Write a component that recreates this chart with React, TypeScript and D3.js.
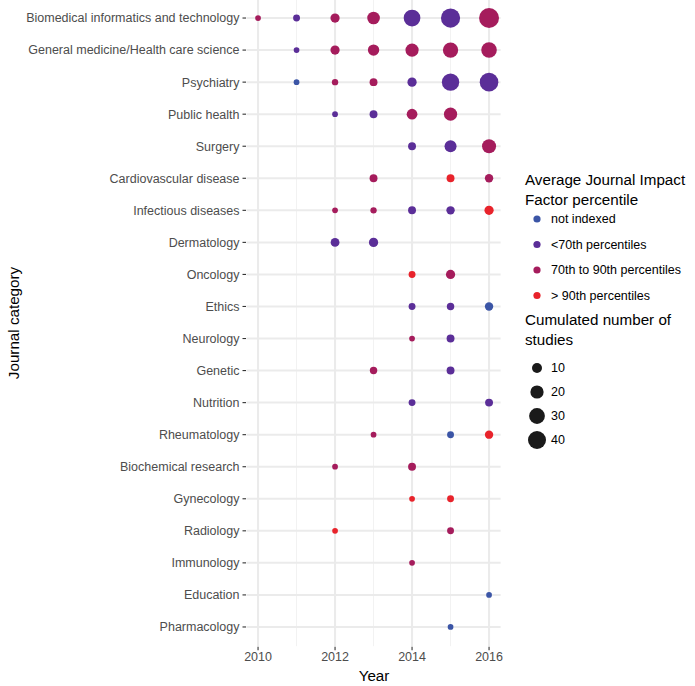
import React from "react";
import * as d3 from "d3";

const categories = [
  "Biomedical informatics and technology",
  "General medicine/Health care science",
  "Psychiatry",
  "Public health",
  "Surgery",
  "Cardiovascular disease",
  "Infectious diseases",
  "Dermatology",
  "Oncology",
  "Ethics",
  "Neurology",
  "Genetic",
  "Nutrition",
  "Rheumatology",
  "Biochemical research",
  "Gynecology",
  "Radiology",
  "Immunology",
  "Education",
  "Pharmacology",
];

const yearTicks = [2010, 2012, 2014, 2016];
const minorYears = [2011, 2013, 2015];

const classLabels = ["not indexed", "<70th percentiles", "70th to 90th percentiles", "> 90th percentiles"];
const classColors = ["#3B55A6", "#5B2E98", "#A51C5C", "#E8232B"];

const sizeBreaks = [10, 20, 30, 40];

// [category, year, cumulated studies, impact class index]
const observations: [string, number, number, number][] = [
  ["Biomedical informatics and technology", 2010, 1, 2],
  ["Biomedical informatics and technology", 2011, 3, 1],
  ["Biomedical informatics and technology", 2012, 8, 2],
  ["Biomedical informatics and technology", 2013, 18, 2],
  ["Biomedical informatics and technology", 2014, 34, 1],
  ["Biomedical informatics and technology", 2015, 46, 1],
  ["Biomedical informatics and technology", 2016, 50, 2],
  ["General medicine/Health care science", 2011, 1, 1],
  ["General medicine/Health care science", 2012, 8, 2],
  ["General medicine/Health care science", 2013, 14, 2],
  ["General medicine/Health care science", 2014, 20, 2],
  ["General medicine/Health care science", 2015, 28, 2],
  ["General medicine/Health care science", 2016, 29, 2],
  ["Psychiatry", 2011, 1, 0],
  ["Psychiatry", 2012, 2, 2],
  ["Psychiatry", 2013, 5, 2],
  ["Psychiatry", 2014, 8, 1],
  ["Psychiatry", 2015, 37, 1],
  ["Psychiatry", 2016, 43, 1],
  ["Public health", 2012, 1, 1],
  ["Public health", 2013, 5, 1],
  ["Public health", 2014, 12, 2],
  ["Public health", 2015, 20, 2],
  ["Surgery", 2014, 5, 1],
  ["Surgery", 2015, 16, 1],
  ["Surgery", 2016, 23, 2],
  ["Cardiovascular disease", 2013, 5, 2],
  ["Cardiovascular disease", 2015, 5, 3],
  ["Cardiovascular disease", 2016, 6, 2],
  ["Infectious diseases", 2012, 1, 2],
  ["Infectious diseases", 2013, 2, 2],
  ["Infectious diseases", 2014, 5, 1],
  ["Infectious diseases", 2015, 6, 1],
  ["Infectious diseases", 2016, 8, 3],
  ["Dermatology", 2012, 7, 1],
  ["Dermatology", 2013, 8, 1],
  ["Oncology", 2014, 3, 3],
  ["Oncology", 2015, 8, 2],
  ["Ethics", 2014, 3, 1],
  ["Ethics", 2015, 4, 1],
  ["Ethics", 2016, 6, 0],
  ["Neurology", 2014, 1, 2],
  ["Neurology", 2015, 5, 1],
  ["Genetic", 2013, 4, 2],
  ["Genetic", 2015, 5, 1],
  ["Nutrition", 2014, 3, 1],
  ["Nutrition", 2016, 5, 1],
  ["Rheumatology", 2013, 1, 2],
  ["Rheumatology", 2015, 3, 0],
  ["Rheumatology", 2016, 6, 3],
  ["Biochemical research", 2012, 1, 2],
  ["Biochemical research", 2014, 5, 2],
  ["Gynecology", 2014, 1, 3],
  ["Gynecology", 2015, 3, 3],
  ["Radiology", 2012, 1, 3],
  ["Radiology", 2015, 3, 2],
  ["Immunology", 2014, 1, 2],
  ["Education", 2016, 1, 0],
  ["Pharmacology", 2015, 1, 0],
];

const W = 695;
const H = 686;
const FONT = "'Liberation Sans', Arial, Helvetica, sans-serif";
const TICK_FS = 12.5;
const TITLE_FS = 15.2;

export default function App() {
  const x = d3.scaleLinear().domain([2009.7, 2016.3]).range([246.5, 500.6]);
  const y = d3.scalePoint<string>().domain(categories).range([-1.2, 646.2]).padding(0.6);
  const area = d3.scaleLinear().domain([0, 40]).range([25.3, 324]);
  const r = (n: number) => Math.sqrt(area(n)) / 2;
  const color = d3.scaleOrdinal<number, string>().domain([0, 1, 2, 3]).range(classColors);

  const panelLeft = x.range()[0];
  const panelRight = x.range()[1];
  const panelTop = 0;
  const panelBottom = 646.2;

  const legX = 537;
  const legLabelX = 551;
  const colorY = d3.scaleLinear().domain([0, 3]).range([219, 295.5]);
  const sizeY = d3.scaleLinear().domain([0, 3]).range([368, 440]);

  return (
    <svg width={W} height={H} style={{ position: "absolute", left: 0, top: 0, background: "#fff" }} fontFamily={FONT}>
      {/* grid */}
      {minorYears.map((yr) => (
        <line key={"mi" + yr} x1={x(yr)} x2={x(yr)} y1={panelTop} y2={panelBottom} stroke="#f2f2f2" strokeWidth={1} />
      ))}
      {categories.map((c) => (
        <line key={"hg" + c} x1={panelLeft} x2={panelRight} y1={y(c)} y2={y(c)} stroke="#ebebeb" strokeWidth={2} />
      ))}
      {yearTicks.map((yr) => (
        <line key={"mj" + yr} x1={x(yr)} x2={x(yr)} y1={panelTop} y2={panelBottom} stroke="#ebebeb" strokeWidth={2} />
      ))}

      {/* points */}
      {observations.map(([c, yr, n, k], i) => (
        <circle key={i} cx={x(yr)} cy={y(c)} r={r(n)} fill={color(k)} />
      ))}

      {/* y axis */}
      {categories.map((c) => (
        <g key={"yt" + c}>
          <line x1={panelLeft - 4} x2={panelLeft - 0.5} y1={y(c)} y2={y(c)} stroke="#333" strokeWidth={1.1} />
          <text x={panelLeft - 7} y={y(c)} dy="0.35em" textAnchor="end" fontSize={TICK_FS} fill="#4d4d4d">
            {c}
          </text>
        </g>
      ))}

      {/* x axis */}
      {yearTicks.map((yr) => (
        <g key={"xt" + yr}>
          <line x1={x(yr)} x2={x(yr)} y1={panelBottom + 0.5} y2={panelBottom + 4} stroke="#333" strokeWidth={1.1} />
          <text x={x(yr)} y={panelBottom + 14.5} textAnchor="middle" fontSize={TICK_FS} fill="#4d4d4d">
            {yr}
          </text>
        </g>
      ))}

      {/* axis titles */}
      <text x={374} y={681} textAnchor="middle" fontSize={TITLE_FS} fill="#000">
        Year
      </text>
      <text transform={`translate(19,323) rotate(-90)`} textAnchor="middle" fontSize={TITLE_FS} fill="#000">
        Journal category
      </text>

      {/* colour legend */}
      <text x={525} y={185} fontSize={TITLE_FS} fill="#000">Average Journal Impact</text>
      <text x={525} y={204.5} fontSize={TITLE_FS} fill="#000">Factor percentile</text>
      {classLabels.map((lab, i) => (
        <g key={"cl" + i}>
          <circle cx={legX} cy={colorY(i)} r={3.6} fill={classColors[i]} />
          <text x={legLabelX} y={colorY(i)} dy="0.35em" fontSize={TICK_FS} fill="#000">
            {lab}
          </text>
        </g>
      ))}

      {/* size legend */}
      <text x={525} y={325} fontSize={TITLE_FS} fill="#000">Cumulated number of</text>
      <text x={525} y={345} fontSize={TITLE_FS} fill="#000">studies</text>
      {sizeBreaks.map((b, i) => (
        <g key={"sz" + b}>
          <circle cx={legX} cy={sizeY(i)} r={r(b)} fill="#1a1a1a" />
          <text x={legLabelX} y={sizeY(i)} dy="0.35em" fontSize={TICK_FS} fill="#000">
            {b}
          </text>
        </g>
      ))}
    </svg>
  );
}
